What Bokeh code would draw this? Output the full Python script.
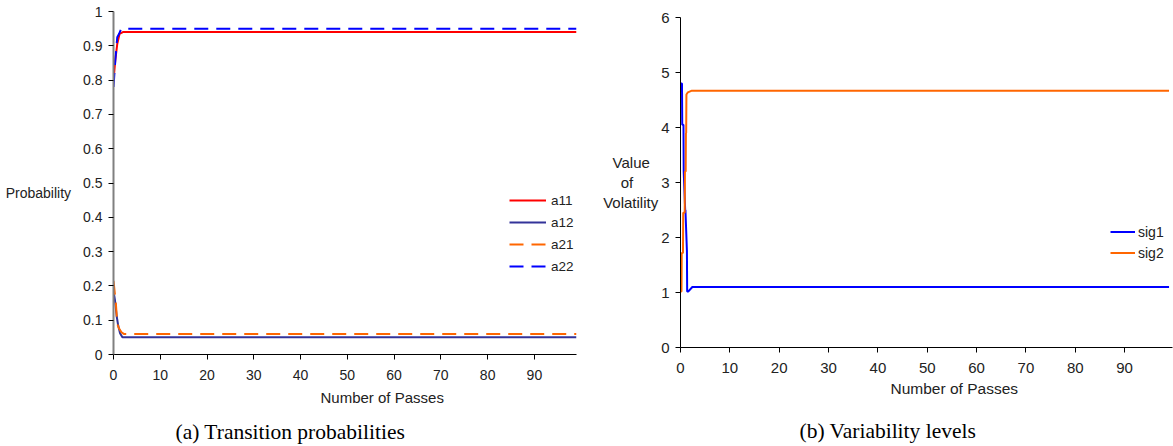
from bokeh.plotting import figure
from bokeh.layouts import row
from bokeh.models import FixedTicker, Legend, LegendItem, Range1d, Title
from bokeh.embed import file_html
from bokeh.resources import INLINE

# ---------------- data ----------------
pass_ticks = [0, 10, 20, 30, 40, 50, 60, 70, 80, 90]
prob_ticks = [0.0, 0.1, 0.2, 0.3, 0.4, 0.5, 0.6, 0.7, 0.8, 0.9, 1.0]
prob_tick_labels = ["0", "0.1", "0.2", "0.3", "0.4", "0.5", "0.6", "0.7", "0.8", "0.9", "1"]
vol_ticks = [0, 1, 2, 3, 4, 5, 6]

a11_x = [0, 0.4, 0.8, 1.3, 2.0, 99]
a11_y = [0.80, 0.86, 0.905, 0.935, 0.94, 0.94]
a12_x = [0, 0.3, 0.7, 1.0, 1.4, 1.9, 99]
a12_y = [0.185, 0.16, 0.11, 0.085, 0.062, 0.05, 0.05]
a21_x = [0, 0.5, 0.8, 1.1, 1.7, 2.2, 99]
a21_y = [0.215, 0.15, 0.09, 0.078, 0.065, 0.06, 0.06]
a22_x = [0, 0.4, 0.8, 1.2, 1.6, 2.2, 99]
a22_y = [0.78, 0.86, 0.925, 0.935, 0.948, 0.95, 0.95]

sig1_x = [0, 0.3, 0.35, 0.6, 0.65, 0.95, 1.0, 1.3, 1.35, 1.6, 2.4, 99]
sig1_y = [4.8, 4.8, 4.05, 4.05, 3.2, 2.5, 2.5, 1.76, 1.02, 1.02, 1.1, 1.1]
sig2_x = [0, 0.2, 0.25, 0.5, 0.55, 0.85, 0.9, 1.05, 1.1, 1.15, 1.2, 1.5, 2.3, 99]
sig2_y = [1.02, 1.02, 1.72, 1.72, 2.45, 2.45, 3.2, 3.2, 3.9, 3.9, 4.6, 4.64, 4.67, 4.67]

SANS = "Liberation Sans"
SERIF = "Liberation Serif"
NB = "\u00a0"


def style(p, ytick_list, ycolor, ywidth, fs):
    p.xgrid.visible = False
    p.ygrid.visible = False
    p.outline_line_color = None
    p.xaxis.ticker = FixedTicker(ticks=pass_ticks)
    p.yaxis.ticker = FixedTicker(ticks=ytick_list)
    for ax in (p.xaxis[0], p.yaxis[0]):
        ax.major_label_text_font = SANS
        ax.major_label_text_font_size = fs
        ax.major_label_text_color = "#222222"
        ax.major_tick_in = 0
        ax.major_tick_out = 5
        ax.minor_tick_in = 0
        ax.minor_tick_out = 0
        ax.major_tick_line_color = "black"
        ax.axis_label_text_font = SANS
        ax.axis_label_text_font_style = "normal"
        ax.axis_label_text_color = "#222222"
    p.xaxis.major_label_standoff = 10
    p.yaxis.major_label_standoff = 6
    p.xaxis.axis_line_color = "black"
    p.yaxis.axis_line_color = ycolor
    p.yaxis.axis_line_width = ywidth


def add_below(p, text, font, size, offset, standoff, color="#222222"):
    p.add_layout(Title(text=text, align="left", offset=offset, standoff=standoff,
                       text_font=font, text_font_size=size, text_font_style="normal",
                       text_color=color), "below")


# ---------------- left panel ----------------
p1 = figure(width=600, height=446, x_range=Range1d(0, 99), y_range=Range1d(0, 1),
            output_backend="svg", toolbar_location=None, frame_align=False,
            min_border_left=113, min_border_right=24, min_border_top=11, min_border_bottom=92)
style(p1, prob_ticks, "#808080", 2, "14px")
p1.yaxis.major_label_overrides = {t: s for t, s in zip(prob_ticks, prob_tick_labels)}
p1.yaxis.axis_label = "\nProbability"
p1.yaxis.axis_label_orientation = "horizontal"
p1.yaxis.axis_label_text_font_size = "14px"
p1.yaxis.axis_label_standoff = 9

r11 = p1.line(a11_x, a11_y, line_color="#FF0000", line_width=2)
r12 = p1.line(a12_x, a12_y, line_color="#333399", line_width=2)
r21 = p1.line(a21_x, a21_y, line_color="#FF6600", line_width=2, line_dash="14 8")
r22 = p1.line(a22_x, a22_y, line_color="#0000FF", line_width=2, line_dash="14 8")

leg1 = Legend(items=[LegendItem(label="a11", renderers=[r11]),
                     LegendItem(label="a12", renderers=[r12]),
                     LegendItem(label="a21", renderers=[r21]),
                     LegendItem(label="a22", renderers=[r22])],
              location=(396, 77), padding=0, margin=0, spacing=0,
              glyph_width=37, glyph_height=22, label_height=22,
              label_standoff=5, border_line_color=None, background_fill_alpha=0,
              label_text_font=SANS, label_text_font_size="13.5px", label_text_color="#222222")
p1.add_layout(leg1)

add_below(p1, "Number of Passes", SANS, "15px", 207, 9)
add_below(p1, " ", SANS, "1px", 0, 4)          # vertical gap
add_below(p1, "(a)  Transition probabilities", SERIF, "21.5px", 62, 0, "black")

# ---------------- right panel ----------------
p2 = figure(width=573, height=446, x_range=Range1d(0, 99.7), y_range=Range1d(0, 6),
            output_backend="svg", toolbar_location=None, frame_align=False,
            min_border_left=80, min_border_right=1, min_border_top=17, min_border_bottom=99)
style(p2, vol_ticks, "black", 1, "15px")
p2.yaxis.axis_label = "Value" + NB * 2 + "\nof" + NB * 6 + "\nVolatility"
p2.yaxis.axis_label_orientation = "horizontal"
p2.yaxis.axis_label_text_font_size = "15px"
p2.yaxis.axis_label_standoff = 0

s1 = p2.line(sig1_x, sig1_y, line_color="#0000FF", line_width=2)
s2 = p2.line(sig2_x, sig2_y, line_color="#FF6600", line_width=2)

leg2 = Legend(items=[LegendItem(label="sig1", renderers=[s1]),
                     LegendItem(label="sig2", renderers=[s2])],
              location=(430, 84), padding=0, margin=0, spacing=0,
              glyph_width=25, glyph_height=21, label_height=21,
              label_standoff=3, border_line_color=None, background_fill_alpha=0,
              label_text_font=SANS, label_text_font_size="14px", label_text_color="#222222")
p2.add_layout(leg2)

add_below(p2, "Number of Passes", SANS, "15.5px", 210, 4)
add_below(p2, " ", SANS, "1px", 0, 15)         # vertical gap
add_below(p2, "(b)  Variability levels", SERIF, "21.5px", 119, 0, "black")

layout = row(p1, p2)
open("out.html", "w").write(file_html(layout, INLINE))
